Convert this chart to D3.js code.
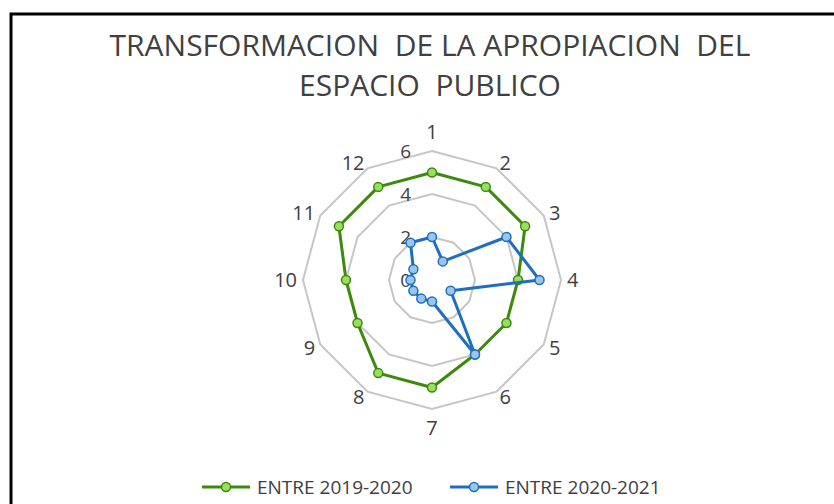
<!DOCTYPE html>
<html lang="es">
<head>
<meta charset="UTF-8" />
<title>Transformacion de la apropiacion del espacio publico</title>
<script src="https://d3js.org/d3.v7.min.js"></script>
<style>
    body { margin: 0; background: #fff; }
    svg { display: block; font-family: "Open Sans", sans-serif; }
    .title { font-size: 30px; fill: #404040; text-anchor: middle; white-space: pre; }
    .grid { fill: none; stroke: #c6c6c6; stroke-width: 2px; }
    .tick { font-size: 19px; fill: #404040; text-anchor: end; }
    .cat { font-size: 20px; fill: #404040; }
    .legend text { font-size: 19px; fill: #404040; }
</style>
</head>
<body>
<svg width="834" height="504"></svg>
<script>
    // data
    const categories = ["1", "2", "3", "4", "5", "6", "7", "8", "9", "10", "11", "12"];
    const serie2019 = [5, 5, 5, 4, 4, 4, 5, 5, 4, 4, 5, 5];
    const serie2020 = [2, 1, 4, 5, 1, 4, 1, 1, 1, 1, 1, 2];
    const ticks = [0, 2, 4, 6];
    const titleLines = ["TRANSFORMACION  DE LA APROPIACION  DEL", "ESPACIO  PUBLICO"];

    const series = [
        { name: "ENTRE 2019-2020", values: serie2019, line: "#3b8a0b", fill: "#97de61", stroke: "#3b8a0b" },
        { name: "ENTRE 2020-2021", values: serie2020, line: "#1e6fc1", fill: "#9cc5ee", stroke: "#1e6fc1" }
    ];

    const svg = d3.select("svg");

    // frame (only top and left edges are visible in the crop)
    svg.append("rect")
        .attr("x", 11).attr("y", 14)
        .attr("width", 900).attr("height", 600)
        .attr("fill", "none").attr("stroke", "#000").attr("stroke-width", 3);

    svg.selectAll(".title")
        .data(titleLines)
        .join("text")
        .attr("class", "title")
        .attr("x", 430)
        .attr("y", (d, i) => 56 + i * 40)
        .text(d => d);

    const cx = 432, cy = 280;
    const r = d3.scaleLinear().domain([0, 6]).range([0, 129]);
    const angle = d3.scalePoint().domain(categories).range([0, 2 * Math.PI * 11 / 12]);
    const labelR = 135;

    const g = svg.append("g").attr("transform", `translate(${cx},${cy})`);

    const pt = (cat, v) => {
        const a = angle(cat);
        return [Math.sin(a) * r(v), -Math.cos(a) * r(v)];
    };

    // gridline polygons
    g.selectAll(".grid")
        .data(ticks.filter(t => t > 0))
        .join("polygon")
        .attr("class", "grid")
        .attr("points", t => categories.map(c => pt(c, t).join(",")).join(" "));

    // tick labels
    g.selectAll(".tick")
        .data(ticks)
        .join("text")
        .attr("class", "tick")
        .attr("x", -21)
        .attr("y", t => -r(t))
        .attr("dy", "0.35em")
        .text(t => t);

    // category labels, anchored by side like the spreadsheet does
    g.selectAll(".cat")
        .data(categories)
        .join("text")
        .attr("class", "cat")
        .attr("x", c => Math.sin(angle(c)) * labelR)
        .attr("y", c => {
            const cos = Math.cos(angle(c));
            const shift = Math.abs(cos) > 0.99 ? 13 * Math.sign(cos) : 0;
            return -cos * labelR - shift;
        })
        .attr("dy", "0.35em")
        .attr("text-anchor", c => {
            const s = Math.sin(angle(c));
            return s > 0.01 ? "start" : s < -0.01 ? "end" : "middle";
        })
        .text(c => c);

    const line = d3.lineRadial()
        .angle((d, i) => angle(categories[i]))
        .radius(d => r(d))
        .curve(d3.curveLinearClosed);

    series.forEach(s => {
        const sg = g.append("g");
        sg.append("path")
            .attr("d", line(s.values))
            .attr("fill", "none")
            .attr("stroke", s.line)
            .attr("stroke-width", 3)
            .attr("stroke-linejoin", "round");
        sg.selectAll("circle")
            .data(s.values)
            .join("circle")
            .attr("cx", (d, i) => pt(categories[i], d)[0])
            .attr("cy", (d, i) => pt(categories[i], d)[1])
            .attr("r", 4.5)
            .attr("fill", s.fill)
            .attr("stroke", s.stroke)
            .attr("stroke-width", 1.5);
    });

    // legend
    const legendX = [202, 450];
    const leg = svg.selectAll(".legend")
        .data(series)
        .join("g")
        .attr("class", "legend")
        .attr("transform", (d, i) => `translate(${legendX[i]},487)`);
    leg.append("line")
        .attr("x1", 0).attr("x2", 48)
        .attr("stroke", d => d.line).attr("stroke-width", 3);
    leg.append("circle")
        .attr("cx", 24).attr("r", 4.5)
        .attr("fill", d => d.fill).attr("stroke", d => d.stroke).attr("stroke-width", 1.5);
    leg.append("text")
        .attr("x", 55).attr("dy", "0.35em")
        .text(d => d.name);
</script>
</body>
</html>
